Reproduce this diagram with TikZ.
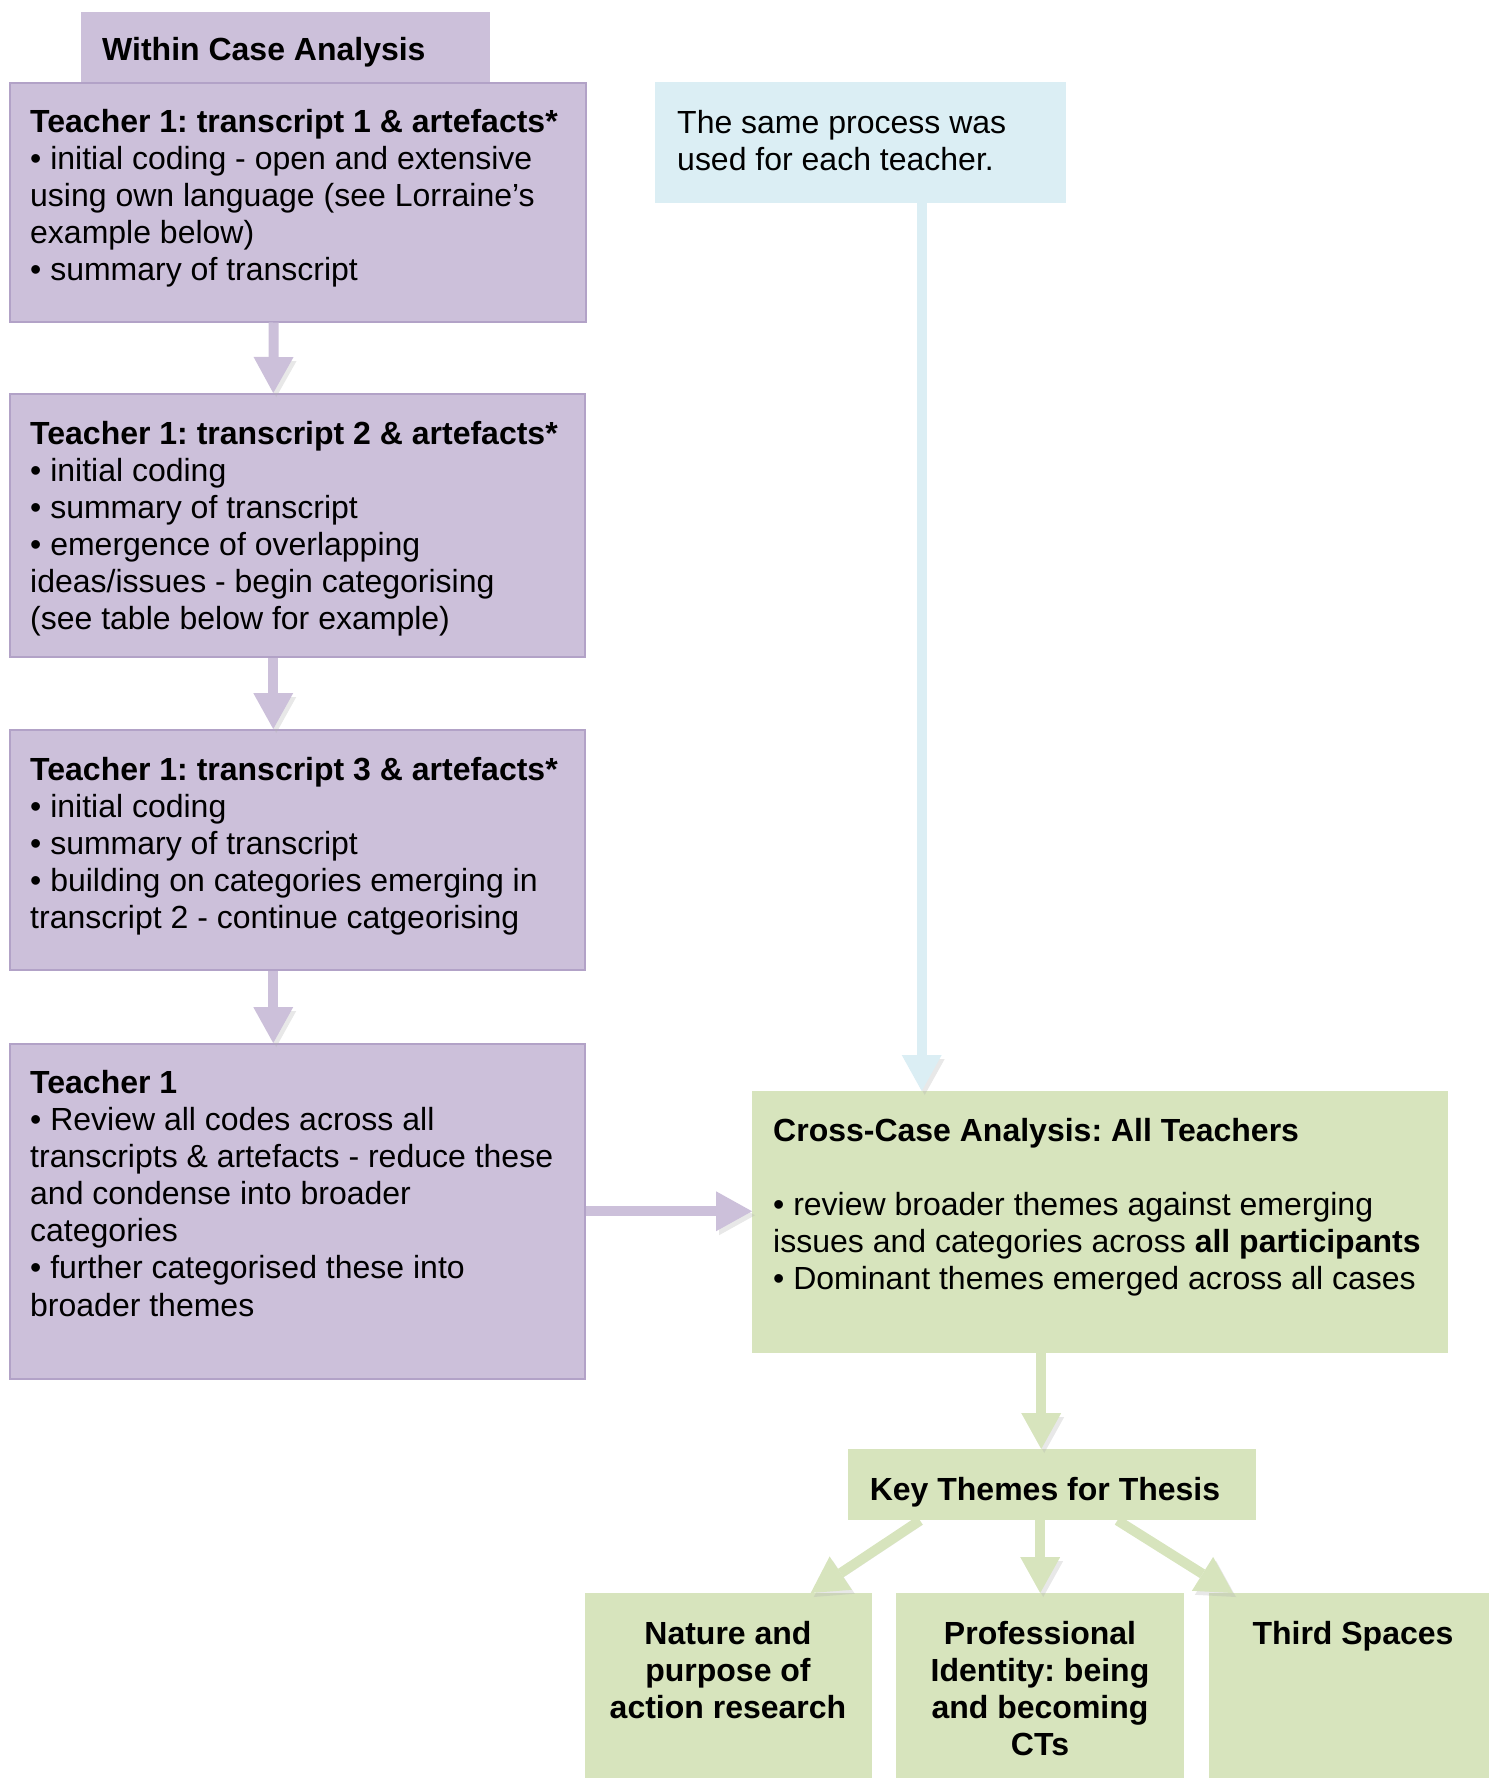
\documentclass[tikz,border=0pt]{standalone}
\usepackage{fontspec}
\setmainfont{Liberation Sans}
\usetikzlibrary{arrows.meta,positioning,calc}
\frenchspacing

\definecolor{lilac}{RGB}{204,192,218}
\definecolor{lilacline}{RGB}{178,162,199}
\definecolor{paleblue}{RGB}{219,238,244}
\definecolor{sage}{RGB}{215,228,189}

\tikzset{
	pbox/.style={rectangle, draw=lilacline, line width=1.5pt, fill=lilac, anchor=north west, inner sep=0pt},
	bbox/.style={rectangle, fill=paleblue, anchor=north west, inner sep=0pt},
	gbox/.style={rectangle, fill=sage, anchor=north west, inner sep=0pt},
	txt/.style={anchor=north west, align=left, inner sep=0pt, font=\fontsize{32}{37.1}\selectfont},
	ctxt/.style={anchor=north, align=center, inner sep=0pt, font=\fontsize{32}{37.1}\selectfont\bfseries},
	flow/.style={line width=10pt, -{Triangle[width=40pt,length=36pt,line width=0pt]},
		preaction={draw=black!30, opacity=0.3, transform canvas={shift={(3pt,-4pt)}}}},
}

\begin{document}
\begin{tikzpicture}[x=1pt, y=-1pt]
		\useasboundingbox (0,0) rectangle (1491,1778);
		% within case boxes
		\node[pbox, draw=none, minimum width=409pt, minimum height=71pt] (head) at (80,11) {};
		\node[pbox, minimum width=576pt, minimum height=239pt] (t1) at (9,82) {};
		\node[pbox, minimum width=575pt, minimum height=263pt] (t2) at (9,393) {};
		\node[pbox, minimum width=575pt, minimum height=240pt] (t3) at (9,729) {};
		\node[pbox, minimum width=575pt, minimum height=335pt] (t4) at (9,1043) {};
		% right hand side
		\node[bbox, minimum width=411pt, minimum height=121pt] (same) at (655,82) {};
		\node[gbox, minimum width=696pt, minimum height=262pt] (cross) at (752,1091) {};
		\node[gbox, minimum width=408pt, minimum height=71pt] (key) at (848,1449) {};
		\node[gbox, minimum width=287pt, minimum height=185pt] (nat) at (585,1593) {};
		\node[gbox, minimum width=288pt, minimum height=185pt] (prof) at (896,1593) {};
		\node[gbox, minimum width=280pt, minimum height=185pt] (third) at (1209,1593) {};

		\node[txt, font=\fontsize{32}{37.1}\selectfont\bfseries] (headtxt) at (102,37) {Within Case Analysis};
		\node[txt] (t1txt) at (30,109) {\textbf{Teacher 1: transcript 1 \& artefacts*}\\
			• initial coding - open and extensive\\
			using own language (see Lorraine’s\\
			example below)\\
			• summary of transcript};
		\node[txt] (t2txt) at (30,421) {\textbf{Teacher 1: transcript 2 \& artefacts*}\\
			• initial coding\\
			• summary of transcript\\
			• emergence of overlapping\\
			ideas/issues - begin categorising\\
			(see table below for example)};
		\node[txt] (t3txt) at (30,757) {\textbf{Teacher 1: transcript 3 \& artefacts*}\\
			• initial coding\\
			• summary of transcript\\
			• building on categories emerging in\\
			transcript 2 - continue catgeorising};
		\node[txt] (t4txt) at (30,1070) {\textbf{Teacher 1}\\
			• Review all codes across all\\
			transcripts \& artefacts - reduce these\\
			and condense into broader\\
			categories\\
			• further categorised these into\\
			broader themes};
		\node[txt] (sametxt) at (677,110) {The same process was\\
			used for each teacher.};
		\node[txt] (crosstxt) at (773,1118) {\textbf{Cross-Case Analysis: All Teachers}\\[37.1pt]
			• review broader themes against emerging\\
			issues and categories across \textbf{all participants}\\
			• Dominant themes emerged across all cases};
		\node[ctxt] (keytxt) at (1045,1477) {Key Themes for Thesis};
		\node[ctxt] (nattxt) at (728,1621) {Nature and\\purpose of\\action research};
		\node[ctxt] (proftxt) at (1040,1621) {Professional\\Identity: being\\and becoming\\CTs};
		\node[ctxt] (thirdtxt) at (1353,1621) {Third Spaces};

		% arrows
		\draw[flow, lilac] ([xshift=-24pt]t1.south) -- ([xshift=-24pt]t2.north);
		\draw[flow, lilac] ([xshift=-24pt]t2.south) -- ([xshift=-24pt]t3.north);
		\draw[flow, lilac] ([xshift=-24pt]t3.south) -- ([xshift=-24pt]t4.north);
		\draw[flow, lilac] (t4.east) -- (t4.east -| cross.west);
		\draw[flow, paleblue] ([xshift=61pt]same.south) -- ([xshift=61pt]same.south |- cross.north);
		\draw[flow, sage] ([xshift=-11pt]key.north |- cross.south) -- ([xshift=-11pt]key.north);
		\draw[flow, sage] ([xshift=72pt]key.south west) -- ([xshift=82pt]nat.north);
		\draw[flow, sage] ([xshift=-12pt]key.south) -- (prof.north);
		\draw[flow, sage] ([xshift=-139pt]key.south east) -- ([xshift=24pt]third.north west);
	\end{tikzpicture}
\end{document}
